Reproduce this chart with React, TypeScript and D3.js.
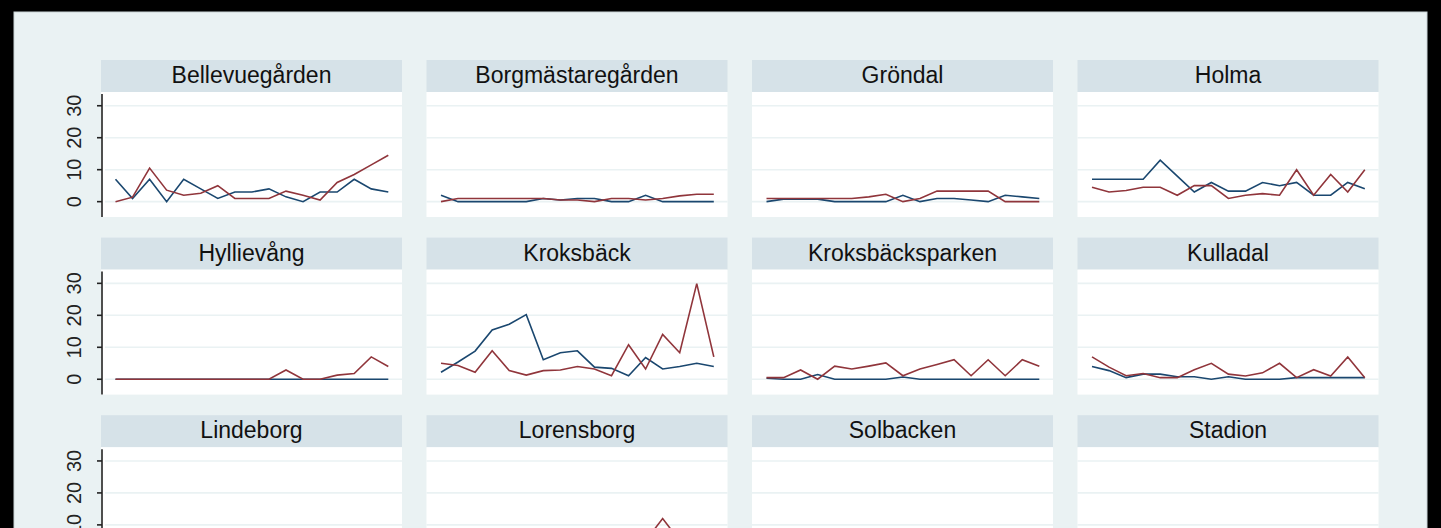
import React from "react";
import * as d3 from "d3";

// 17 periods along the x axis (unlabelled in the figure)
const PERIODS = [1, 2, 3, 4, 5, 6, 7, 8, 9, 10, 11, 12, 13, 14, 15, 16, 17];

const AREAS = [
  "Bellevuegården", "Borgmästaregården", "Gröndal", "Holma",
  "Hyllievång", "Kroksbäck", "Kroksbäcksparken", "Kulladal",
  "Lindeborg", "Lorensborg", "Solbacken", "Stadion",
];

// blue series (first series)
const BLUE_BELLEVUEGARDEN = [7, 1, 7, 0, 7, 4, 1, 3, 3, 4, 1.5, 0, 3, 3, 7, 4, 3];
const BLUE_BORGMASTAREGARDEN = [2, 0, 0, 0, 0, 0, 1, 0.5, 1, 1, 0, 0, 2, 0, 0, 0, 0];
const BLUE_GRONDAL = [0, 0.8, 0.8, 0.8, 0, 0, 0, 0, 2, 0, 1, 1, 0.5, 0, 2, 1.5, 1];
const BLUE_HOLMA = [7, 7, 7, 7, 13, 8, 3, 6, 3.3, 3.3, 6, 5, 6, 2, 2, 6, 4];
const BLUE_HYLLIEVANG = [0, 0, 0, 0, 0, 0, 0, 0, 0, 0, 0, 0, 0, 0, 0, 0, 0];
const BLUE_KROKSBACK = [2.2, 5.4, 8.8, 15.4, 17.2, 20.2, 6.1, 8.3, 8.9, 3.8, 3.4, 1.1, 6.8, 3.2, 4, 5, 4];
const BLUE_KROKSBACKSPARKEN = [0.3, 0, 0, 1.5, 0, 0, 0, 0, 0.7, 0, 0, 0, 0, 0, 0, 0, 0];
const BLUE_KULLADAL = [4, 2.7, 0.5, 1.6, 1.6, 0.8, 0.8, 0, 0.8, 0, 0, 0, 0.5, 0.5, 0.5, 0.5, 0.5];
const BLUE_LINDEBORG = [1, 2, 1, 0, 1, 2, 1, 1, 0, 1, 2, 1, 1, 0, 1, 1, 2];
const BLUE_LORENSBORG = [1, 1, 2, 1, 0, 1, 1, 2, 1, 1, 0, 1, 2, 1, 1, 2, 1];
const BLUE_SOLBACKEN = [0, 1, 0, 0, 1, 0, 0, 1, 0, 0, 1, 0, 0, 0, 1, 0, 0];
const BLUE_STADION = [1, 0, 1, 1, 0, 1, 2, 1, 0, 1, 1, 0, 1, 2, 1, 0, 1];

// red series (second series)
const RED_BELLEVUEGARDEN = [0, 1.4, 10.5, 3.6, 2, 2.6, 5, 1, 1, 1, 3.3, 2, 0.5, 6, 8.5, 11.5, 14.5];
const RED_BORGMASTAREGARDEN = [0, 1, 1, 1, 1, 1, 1, 0.5, 0.5, 0, 1, 1, 0.5, 1, 1.8, 2.3, 2.3];
const RED_GRONDAL = [1, 1, 1, 1, 1, 1, 1.5, 2.3, 0, 1, 3.3, 3.3, 3.3, 3.3, 0, 0, 0];
const RED_HOLMA = [4.5, 3, 3.5, 4.5, 4.5, 2, 5, 5, 1, 2, 2.5, 2, 10, 2, 8.5, 3, 10];
const RED_HYLLIEVANG = [0, 0, 0, 0, 0, 0, 0, 0, 0, 0, 2.9, 0, 0, 1.3, 1.8, 7, 4];
const RED_KROKSBACK = [5, 4.3, 2.2, 8.9, 2.7, 1.3, 2.7, 2.9, 4, 3.2, 1.1, 10.8, 3.2, 14, 8.3, 29.9, 7];
const RED_KROKSBACKSPARKEN = [0.5, 0.5, 2.9, 0, 4.1, 3.2, 4.1, 5.1, 1.1, 3.2, 4.6, 6.1, 1.1, 6.1, 1.1, 6.1, 4.1];
const RED_KULLADAL = [7, 3.8, 1.1, 1.8, 0.5, 0.5, 3, 5, 1.6, 1, 2, 5, 0.5, 3, 1, 7, 0.5];
const RED_LINDEBORG = [2, 1, 3, 2, 1, 2, 4, 2, 1, 3, 2, 1, 2, 3, 2, 4, 3];
const RED_LORENSBORG = [1, 2, 1, 3, 2, 1, 2, 1, 2, 3, 1, 2, 5, 12, 5, 3, 2];
const RED_SOLBACKEN = [1, 0, 2, 1, 1, 0, 1, 2, 1, 0, 1, 1, 2, 1, 0, 1, 1];
const RED_STADION = [2, 1, 1, 3, 2, 1, 2, 1, 3, 2, 1, 2, 1, 2, 3, 1, 2];

const SERIES_BLUE = [
  BLUE_BELLEVUEGARDEN, BLUE_BORGMASTAREGARDEN, BLUE_GRONDAL, BLUE_HOLMA,
  BLUE_HYLLIEVANG, BLUE_KROKSBACK, BLUE_KROKSBACKSPARKEN, BLUE_KULLADAL,
  BLUE_LINDEBORG, BLUE_LORENSBORG, BLUE_SOLBACKEN, BLUE_STADION,
];
const SERIES_RED = [
  RED_BELLEVUEGARDEN, RED_BORGMASTAREGARDEN, RED_GRONDAL, RED_HOLMA,
  RED_HYLLIEVANG, RED_KROKSBACK, RED_KROKSBACKSPARKEN, RED_KULLADAL,
  RED_LINDEBORG, RED_LORENSBORG, RED_SOLBACKEN, RED_STADION,
];

const Y_TICKS = [0, 10, 20, 30];

const W = 1441;
const H = 528;
const BG = "#eaf2f3";
const STRIP = "#d6e2e8";
const GRID = "#eaf2f3";
const BLUE = "#1a476f";
const RED = "#90353b";
const FONT = "'Liberation Sans', Arial, sans-serif";

export default function App() {
  const panelW = 301;
  const stripH = 32;
  const plotH = 125;
  const colLeft = (c: number) => 101 + c * 325.5;
  const rowTop = (r: number) => 60 + r * 177.6;

  const x = d3.scaleLinear().domain([PERIODS[0], PERIODS[PERIODS.length - 1]]).range([14.5, 287.3]);
  const y = d3.scaleLinear().domain([-4.8, 34.3]).range([plotH, 0]);
  const line = d3
    .line<number>()
    .x((_, i) => x(PERIODS[i]))
    .y((d) => y(d));

  return (
    <svg
      width={W}
      height={H}
      style={{ position: "fixed", left: 0, top: 0, display: "block" }}
      xmlns="http://www.w3.org/2000/svg"
    >
      <rect x={0} y={0} width={W} height={H} fill="#000" />
      <rect x={14} y={12} width={1413} height={540} fill={BG} stroke="#c9d3d6" strokeWidth={1} />
      {AREAS.map((name, k) => {
        const c = k % 4;
        const r = Math.floor(k / 4);
        const left = colLeft(c);
        const top = rowTop(r);
        const pTop = top + stripH;
        return (
          <g key={name}>
            <rect x={left} y={top} width={panelW} height={stripH} fill={STRIP} />
            <text
              x={left + panelW / 2}
              y={top + 23}
              textAnchor="middle"
              fontFamily={FONT}
              fontSize={23}
              fill="#111"
            >
              {name}
            </text>
            <g transform={`translate(${left},${pTop})`}>
              <rect x={0} y={0} width={panelW} height={plotH} fill="#fff" />
              {Y_TICKS.map((t) => (
                <line
                  key={t}
                  x1={c === 0 ? 4 : 0}
                  x2={panelW}
                  y1={y(t)}
                  y2={y(t)}
                  stroke={GRID}
                  strokeWidth={1.6}
                />
              ))}
              {c === 0 && (
                <g>
                  <line x1={1} x2={1} y1={2} y2={plotH} stroke="#222" strokeWidth={1.6} />
                  {Y_TICKS.map((t) => (
                    <g key={t}>
                      <line x1={-4} x2={1} y1={y(t)} y2={y(t)} stroke="#222" strokeWidth={1.6} />
                      <text
                        transform={`translate(${-20},${y(t)}) rotate(-90)`}
                        textAnchor="middle"
                        fontFamily={FONT}
                        fontSize={20}
                        fill="#222"
                      >
                        {t}
                      </text>
                    </g>
                  ))}
                </g>
              )}
              <path d={line(SERIES_BLUE[k]) || ""} fill="none" stroke={BLUE} strokeWidth={1.6} />
              <path d={line(SERIES_RED[k]) || ""} fill="none" stroke={RED} strokeWidth={1.6} />
            </g>
          </g>
        );
      })}
    </svg>
  );
}
